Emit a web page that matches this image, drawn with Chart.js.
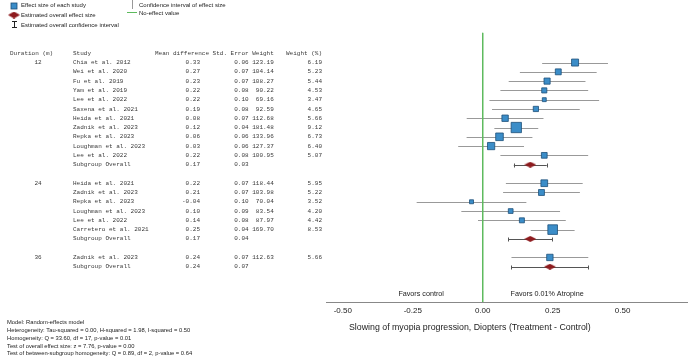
<!DOCTYPE html>
<html><head><meta charset="utf-8">
<script src="https://cdn.jsdelivr.net/npm/chart.js@4"></script>
<style>html,body{margin:0;padding:0;background:#fff}#wrap{width:693px;height:363px}</style>
</head><body><div id="wrap"><canvas id="c" width="693" height="363"></canvas></div>
<script>
// ---------- data ----------
const headers = ['Duration (m)', 'Study', 'Mean difference', 'Std. Error', 'Weight', 'Weight (%)'];
const rowDuration = ['12','','','','','','','','','','','', '', '24','','','','','','', '', '36',''];
const rowStudy = ['Chia et al. 2012','Wei et al. 2020','Fu et al. 2019','Yam et al. 2019','Lee et al. 2022','Saxena et al. 2021','Heida et al. 2021','Zadnik et al. 2023','Repka et al. 2023','Loughman et al. 2023','Lee et al. 2022','Subgroup Overall',
  '',
  'Heida et al. 2021','Zadnik et al. 2023','Repka et al. 2023','Loughman et al. 2023','Lee et al. 2022','Carretero et al. 2021','Subgroup Overall',
  '',
  'Zadnik et al. 2023','Subgroup Overall'];
const meanDiff = [0.33,0.27,0.23,0.22,0.22,0.19,0.08,0.12,0.06,0.03,0.22,0.17, null, 0.22,0.21,-0.04,0.10,0.14,0.25,0.17, null, 0.24,0.24];
const stdErr   = [0.06,0.07,0.07,0.08,0.10,0.08,0.07,0.04,0.06,0.06,0.08,0.03, null, 0.07,0.07,0.10,0.09,0.08,0.04,0.04, null, 0.07,0.07];
const weight   = [123.19,104.14,108.27,90.22,69.16,92.59,112.68,181.48,133.96,127.37,100.95,null, null, 118.44,103.98,70.04,83.54,87.97,169.70,null, null, 112.63,null];
const weightPct= [6.19,5.23,5.44,4.53,3.47,4.65,5.66,9.12,6.73,6.40,5.07,null, null, 5.95,5.22,3.52,4.20,4.42,8.53,null, null, 5.66,null];
const isOverall= rowStudy.map(s => s === 'Subgroup Overall');
const xTicks = [-0.5, -0.25, 0, 0.25, 0.5];
const xTitle = 'Slowing of myopia progression, Diopters (Treatment - Control)';
const favorsLeft = 'Favors control';
const favorsRight = 'Favors 0.01% Atropine';
const legendTexts = ['Effect size of each study','Estimated overall effect size','Estimated overall confidence interval','Confidence interval of effect size','No-effect value'];
const notes = ['Model: Random-effects model',
  'Heterogeneity: Tau-squared = 0.00, H-squared = 1.98, I-squared = 0.50',
  'Homogeneity: Q = 33.60, df = 17, p-value = 0.01',
  'Test of overall effect size: z = 7.76, p-value = 0.00',
  'Test of between-subgroup homogeneity: Q = 0.89, df = 2, p-value = 0.64'];

// ---------- styling ----------
const BLUE = '#3b8dc8', BLUE_DARK = '#1d4f78', RED = '#8e1b1e', GREEN = '#5dba5d';
const MONO = '"Liberation Mono", "DejaVu Sans Mono", monospace';
const SANS = '"Liberation Sans", Arial, sans-serif';

function diamondCanvas(w, h) {
  const c = document.createElement('canvas');
  c.width = w; c.height = h;
  const g = c.getContext('2d');
  g.fillStyle = RED;
  g.beginPath();
  g.moveTo(0, h/2); g.lineTo(w/2, 0); g.lineTo(w, h/2); g.lineTo(w/2, h); g.closePath();
  g.fill();
  return c;
}
const diamond = diamondCanvas(12, 6);

const studyPts = [], studyR = [], overallPts = [];
meanDiff.forEach((v, i) => {
  if (v === null) return;
  if (isOverall[i]) overallPts.push({x: v, y: i + 1});
  else { studyPts.push({x: v, y: i + 1}); studyR.push(weightPct[i] * 0.8); }
});

const ciPlugin = {
  id: 'ci',
  beforeDatasetsDraw(chart) {
    const {ctx, scales: {x, y}} = chart;
    ctx.save();
    ctx.lineWidth = 1;
    meanDiff.forEach((v, i) => {
      if (v === null) return;
      const lo = x.getPixelForValue(v - 1.96 * stdErr[i]);
      const hi = x.getPixelForValue(v + 1.96 * stdErr[i]);
      const py = Math.round(y.getPixelForValue(i + 1)) + 0.5;
      ctx.strokeStyle = isOverall[i] ? '#555' : '#999';
      ctx.beginPath(); ctx.moveTo(lo, py); ctx.lineTo(hi, py);
      if (isOverall[i]) {
        ctx.moveTo(Math.round(lo)+0.5, py - 2); ctx.lineTo(Math.round(lo)+0.5, py + 2);
        ctx.moveTo(Math.round(hi)+0.5, py - 2); ctx.lineTo(Math.round(hi)+0.5, py + 2);
      }
      ctx.stroke();
    });
    ctx.restore();
  },
  afterDraw(chart) {
    const {ctx, scales: {x, y}} = chart;
    ctx.save();
    // table
    ctx.fillStyle = '#3a3a3a';
    ctx.font = '6px ' + MONO;
    ctx.textBaseline = 'middle';
    const hy = y.getPixelForValue(0);
    ctx.textAlign = 'left';
    ctx.fillText(headers[0], 10, hy);
    ctx.fillText(headers[1], 73, hy);
    ctx.fillText(headers[2], 155, hy);
    ctx.textAlign = 'right';
    ctx.fillText(headers[3], 248.6, hy);
    ctx.fillText(headers[4], 273.8, hy);
    ctx.fillText(headers[5], 322, hy);
    rowStudy.forEach((s, i) => {
      const py = y.getPixelForValue(i + 1);
      if (rowDuration[i]) { ctx.textAlign = 'center'; ctx.fillText(rowDuration[i], 38, py); }
      ctx.textAlign = 'left';
      if (s) ctx.fillText(s, 73, py);
      ctx.textAlign = 'right';
      if (meanDiff[i] !== null) ctx.fillText(meanDiff[i].toFixed(2), 200, py);
      if (stdErr[i] !== null) ctx.fillText(stdErr[i].toFixed(2), 248.6, py);
      if (weight[i] !== null) ctx.fillText(weight[i].toFixed(2), 273.8, py);
      if (weightPct[i] !== null) ctx.fillText(weightPct[i].toFixed(2), 322, py);
    });
    // favors labels
    ctx.font = '7.2px ' + SANS;
    ctx.fillStyle = '#222';
    ctx.textAlign = 'center';
    ctx.fillText(favorsLeft, x.getPixelForValue(-0.22), 294.5);
    ctx.fillText(favorsRight, x.getPixelForValue(0.23), 294.5);
    // axis title
    ctx.font = '8.8px ' + SANS;
    ctx.textAlign = 'left';
    ctx.fillText(xTitle, 349, 328);
    // legend
    ctx.font = '6px ' + SANS;
    ctx.fillStyle = '#222';
    ctx.textAlign = 'left';
    ctx.fillText(legendTexts[0], 21, 5.7);
    ctx.fillText(legendTexts[1], 21, 15);
    ctx.fillText(legendTexts[2], 21, 25.3);
    ctx.fillText(legendTexts[3], 139, 5.7);
    ctx.fillText(legendTexts[4], 139, 13.3);
    ctx.fillStyle = BLUE; ctx.strokeStyle = BLUE_DARK; ctx.lineWidth = 0.8;
    ctx.fillRect(11, 3, 6, 6); ctx.strokeRect(11, 3, 6, 6);
    ctx.drawImage(diamondCanvas(12, 7), 8, 11.5, 12, 7);
    ctx.strokeStyle = '#222'; ctx.lineWidth = 1;
    ctx.beginPath();
    ctx.moveTo(14.5, 21); ctx.lineTo(14.5, 28);
    ctx.moveTo(12, 21.5); ctx.lineTo(17, 21.5);
    ctx.moveTo(12, 27.5); ctx.lineTo(17, 27.5);
    ctx.stroke();
    ctx.strokeStyle = '#999';
    ctx.beginPath(); ctx.moveTo(132.5, 0); ctx.lineTo(132.5, 9); ctx.stroke();
    ctx.strokeStyle = GREEN;
    ctx.beginPath(); ctx.moveTo(127, 12.5); ctx.lineTo(137, 12.5); ctx.stroke();
    // notes
    ctx.font = '5.8px ' + SANS;
    ctx.fillStyle = '#222';
    const ny = [322.5, 330.5, 338.5, 346.5, 353];
    notes.forEach((t, i) => ctx.fillText(t, 7, ny[i]));
    ctx.restore();
  }
};

new Chart(document.getElementById('c'), {
  data: {
    datasets: [
      {type: 'line', data: [{x: 0, y: -2.2}, {x: 0, y: 26.8}], borderColor: GREEN, borderWidth: 1, pointRadius: 0, fill: false},
      {type: 'scatter', data: studyPts, pointStyle: 'rect', pointRadius: studyR, backgroundColor: BLUE, borderColor: BLUE_DARK, borderWidth: 0.8},
      {type: 'scatter', data: overallPts, pointStyle: diamond, pointRadius: 6}
    ]
  },
  options: {
    responsive: false,
    animation: false,
    devicePixelRatio: 1,
    layout: {autoPadding: false, padding: {left: 326, right: 6, top: 0, bottom: 0}},
    plugins: {legend: {display: false}, tooltip: {enabled: false}},
    scales: {
      x: {
        type: 'linear', min: -0.56, max: 0.73,
        afterBuildTicks(s) { s.ticks = xTicks.map(v => ({value: v})); },
        afterFit(s) { s.height = 61; },
        grid: {display: false, drawTicks: false},
        border: {display: true, color: '#888', width: 1},
        ticks: {padding: 4, color: '#222', font: {family: SANS, size: 8}, callback: v => Number(v).toFixed(2)}
      },
      y: {type: 'linear', display: false, min: -5.74, max: 26.8, reverse: true}
    }
  },
  plugins: [ciPlugin]
});
</script>
</body></html>
